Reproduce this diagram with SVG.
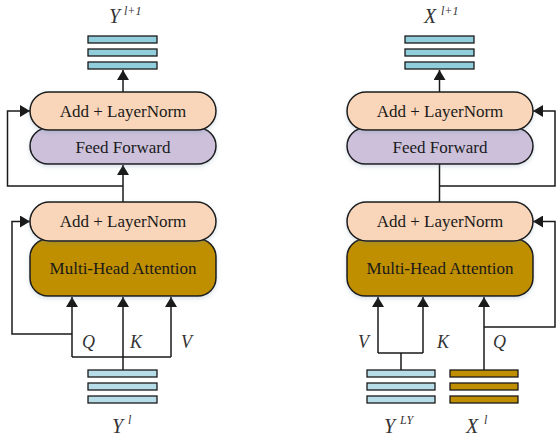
<svg xmlns="http://www.w3.org/2000/svg" width="556" height="440" viewBox="0 0 556 440">
<defs>
<filter id="sh" x="-20%" y="-20%" width="140%" height="160%">
<feDropShadow dx="0" dy="2" stdDeviation="2" flood-color="#6a8aa0" flood-opacity="0.25"/>
</filter>
<marker id="ah" markerUnits="userSpaceOnUse" markerWidth="10" markerHeight="12" viewBox="0 0 10 12" refX="10" refY="6" orient="auto">
<path d="M0,0 L10,6 L0,12 Z" fill="#1a1a1a"/>
</marker>
</defs>
<style>
.box{stroke:#1a1a1a;stroke-width:1.5;filter:url(#sh)}
.aln{fill:#f9d5b9}
.ff{fill:#ccc0da}
.mha{fill:#bf8f00}
.bt{fill:#92cddc;stroke:#1a1a1a;stroke-width:1.3}
.bb{fill:#b7dee8;stroke:#1a1a1a;stroke-width:1.3}
.bg{fill:#bf8f00;stroke:#1a1a1a;stroke-width:1.3}
text{font-family:'Liberation Serif','DejaVu Serif',serif}
.t{font-size:17px;fill:#1a1a1a;text-anchor:middle;dominant-baseline:central}
.it{font-style:italic;fill:#333;font-size:20px}
.q{font-style:italic;fill:#333;font-size:18px}
.sup{font-style:italic;fill:#333;font-size:12px}
.c{fill:none;stroke:#1a1a1a;stroke-width:1.5}
.a{marker-end:url(#ah)}
</style>

<g id="connectors">
<path class="c a" d="M123,92 V70"/>
<path class="c a" d="M123,202 V165"/>
<path class="c a" d="M123,186 H7.5 V111 H30"/>
<path class="c a" d="M72,357 V297"/>
<path class="c a" d="M123,370 V297"/>
<path class="c a" d="M171,357 V297"/>
<path class="c" d="M72,357 H171"/>
<path class="c a" d="M72,334 H12 V221.5 H30"/>
<path class="c a" d="M439.5,92 V70"/>
<path class="c" d="M439.5,164 V202"/>
<path class="c a" d="M439.5,186 H555 V111 H533"/>
<path class="c a" d="M378,353 V297"/>
<path class="c a" d="M423,353 V297"/>
<path class="c" d="M378,353 H423 M401,353 V370"/>
<path class="c a" d="M484,370 V297"/>
<path class="c a" d="M484,327 H555 V221.5 H533"/>
</g>

<g id="left-out">
<rect class="bt" x="88" y="36" width="69" height="7"/>
<rect class="bt" x="88" y="49" width="69" height="7"/>
<rect class="bt" x="88" y="62" width="69" height="7"/>
<text x="109" y="23" class="it">Y</text><text x="124" y="15" class="sup">l+1</text>
</g>
<g id="left-ff">
<rect class="box ff" x="30" y="128" width="186" height="36" rx="18"/>
<text x="123" y="147" class="t">Feed Forward</text>
</g>
<g id="left-aln2">
<rect class="box aln" x="30" y="92" width="186" height="38" rx="19"/>
<text x="123" y="111" class="t">Add + LayerNorm</text>
</g>
<g id="left-mha">
<rect class="box mha" x="30" y="239" width="186" height="57" rx="18"/>
<text x="123" y="268.5" class="t">Multi-Head Attention</text>
</g>
<g id="left-aln1">
<rect class="box aln" x="30" y="202" width="186" height="39" rx="19.5"/>
<text x="123" y="221.5" class="t">Add + LayerNorm</text>
</g>
<g id="left-in">
<rect class="bb" x="88" y="370" width="69" height="7"/>
<rect class="bb" x="88" y="383" width="69" height="7"/>
<rect class="bb" x="88" y="396" width="69" height="7"/>
<text x="112" y="433" class="it">Y</text><text x="128" y="424" class="sup">l</text>
</g>
<g id="left-qkv">
<text x="82" y="348" class="q">Q</text>
<text x="130" y="348" class="q">K</text>
<text x="181" y="348" class="q">V</text>
</g>

<g id="right-out">
<rect class="bt" x="405" y="36" width="69" height="7"/>
<rect class="bt" x="405" y="49" width="69" height="7"/>
<rect class="bt" x="405" y="62" width="69" height="7"/>
<text x="424" y="23" class="it">X</text><text x="441" y="15" class="sup">l+1</text>
</g>
<g id="right-ff">
<rect class="box ff" x="347" y="128" width="186" height="36" rx="18"/>
<text x="440" y="147" class="t">Feed Forward</text>
</g>
<g id="right-aln2">
<rect class="box aln" x="347" y="92" width="186" height="38" rx="19"/>
<text x="440" y="111" class="t">Add + LayerNorm</text>
</g>
<g id="right-mha">
<rect class="box mha" x="347" y="239" width="186" height="57" rx="18"/>
<text x="440" y="268.5" class="t">Multi-Head Attention</text>
</g>
<g id="right-aln1">
<rect class="box aln" x="347" y="202" width="186" height="39" rx="19.5"/>
<text x="440" y="221.5" class="t">Add + LayerNorm</text>
</g>
<g id="right-in-y">
<rect class="bb" x="367" y="370" width="68" height="7"/>
<rect class="bb" x="367" y="383" width="68" height="7"/>
<rect class="bb" x="367" y="396" width="68" height="7"/>
<text x="384" y="433" class="it">Y</text><text x="400" y="424" class="sup">LY</text>
</g>
<g id="right-in-x">
<rect class="bg" x="450" y="370" width="68" height="7"/>
<rect class="bg" x="450" y="383" width="68" height="7"/>
<rect class="bg" x="450" y="396" width="68" height="7"/>
<text x="466" y="433" class="it">X</text><text x="484" y="424" class="sup">l</text>
</g>
<g id="right-qkv">
<text x="358" y="348" class="q">V</text>
<text x="437" y="348" class="q">K</text>
<text x="493" y="348" class="q">Q</text>
</g>
</svg>
